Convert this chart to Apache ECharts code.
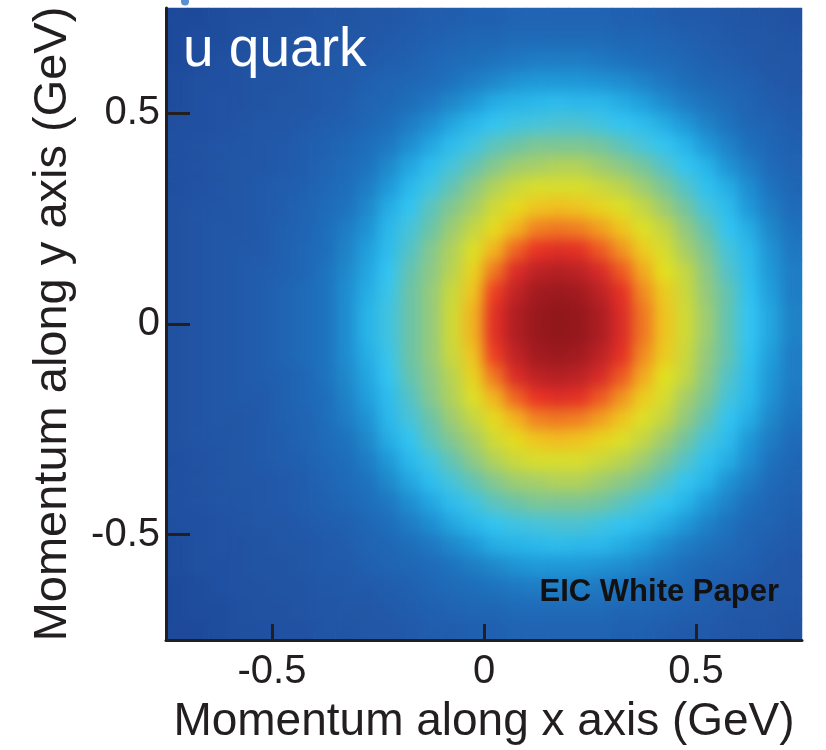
<!DOCTYPE html>
<html>
<head>
<meta charset="utf-8">
<title>u quark</title>
<script src="https://cdn.jsdelivr.net/npm/echarts@6.0.0/dist/echarts.min.js"></script>
<style>
html,body{margin:0;padding:0;background:#ffffff;}
#chart{width:826px;height:750px;}
/* soft shading of the density layer, kept inside the plotting frame */
#chart canvas[data-zr-dom-id="zr_1"]{filter:blur(7px);clip-path:inset(8px 24px 108px 166px);}
</style>
</head>
<body>
<div id="chart"></div>
<script>
// Cell centres (GeV) of the momentum grid at 0.05 GeV spacing
const xCenters = [-0.725,-0.675,-0.625,-0.575,-0.525,-0.475,-0.425,-0.375,-0.325,-0.275,-0.225,-0.175,-0.125,-0.075,-0.025,0.025,0.075,0.125,0.175,0.225,0.275,0.325,0.375,0.425,0.475,0.525,0.575,0.625,0.675,0.725];
const yCenters = [-0.725,-0.675,-0.625,-0.575,-0.525,-0.475,-0.425,-0.375,-0.325,-0.275,-0.225,-0.175,-0.125,-0.075,-0.025,0.025,0.075,0.125,0.175,0.225,0.275,0.325,0.375,0.425,0.475,0.525,0.575,0.625,0.675,0.725];
const xTickValues = [-0.5, 0, 0.5];
const yTickValues = [-0.5, 0, 0.5];

// Relative density (0..100) estimated from the colours; rows from top (y=+0.725) to bottom (y=-0.725)
const density = [
[2,2,3,4,4,5,5,6,6,7,7,8,9,9,10,10,11,11,11,11,11,10,10,9,8,8,7,6,6,5],
[2,3,3,4,5,5,6,6,7,7,8,9,10,11,12,12,13,13,13,13,13,12,12,11,10,9,8,7,7,6],
[2,3,4,5,5,6,6,7,8,8,9,10,12,13,14,15,16,17,17,17,16,15,14,13,12,10,9,8,7,7],
[3,4,4,5,6,6,7,8,8,10,11,12,13,15,17,19,21,22,22,22,21,20,18,16,14,12,11,10,8,7],
[3,4,5,5,6,7,7,8,9,11,12,14,16,19,22,25,26,27,28,27,27,25,23,20,17,15,13,11,9,8],
[4,4,5,6,7,7,8,9,10,12,14,17,20,24,27,30,32,33,34,34,32,30,28,25,22,18,15,12,11,9],
[4,5,6,6,7,8,9,10,12,14,16,20,24,28,32,36,38,40,40,40,39,36,33,30,26,22,18,14,12,10],
[4,5,6,7,7,8,9,11,13,15,19,24,28,33,37,41,44,45,46,46,44,42,39,35,30,26,21,17,13,11],
[4,5,6,7,8,9,10,12,14,17,22,27,32,37,42,46,49,51,51,51,49,47,44,40,35,29,25,20,15,12],
[5,6,6,7,8,9,11,13,15,19,25,30,36,41,45,50,54,57,58,57,55,52,48,44,39,33,28,22,17,13],
[5,6,7,7,8,10,11,14,17,21,27,33,38,44,48,54,59,64,65,64,61,57,52,48,43,37,30,25,19,15],
[5,6,7,8,8,10,12,14,18,23,28,35,41,46,52,59,67,73,76,74,68,62,56,51,45,40,33,27,21,16],
[5,6,7,8,9,10,12,15,19,24,30,37,42,47,55,65,77,85,87,85,78,68,60,53,48,42,35,28,22,17],
[5,6,7,8,9,11,13,15,20,25,31,38,43,49,57,71,84,92,94,92,85,74,63,56,49,43,37,29,23,17],
[5,6,7,8,9,11,13,15,20,26,32,38,43,50,59,75,88,95,98,96,89,77,65,57,50,44,37,30,24,18],
[5,6,7,8,9,11,13,15,20,26,32,38,43,50,59,75,88,95,98,96,89,77,65,57,50,44,37,30,24,18],
[5,6,7,8,9,11,13,15,20,25,31,38,43,49,57,71,84,92,94,92,85,74,63,56,49,43,37,29,23,17],
[5,6,7,8,9,10,12,15,19,24,30,37,42,47,55,65,77,85,87,85,78,68,60,53,48,42,35,28,22,17],
[5,6,7,8,8,10,12,14,18,23,28,35,41,46,52,59,67,73,76,74,68,62,56,51,45,40,33,27,21,16],
[5,6,7,7,8,10,11,14,17,21,27,33,38,44,48,54,59,64,65,64,61,57,52,48,43,37,30,25,19,15],
[5,6,6,7,8,9,11,13,15,19,25,30,36,41,45,50,54,57,58,57,55,52,48,44,39,33,28,22,17,13],
[4,5,6,7,8,9,10,12,14,17,22,27,32,37,42,46,49,51,51,51,49,47,44,40,35,29,25,20,15,12],
[4,5,6,7,7,8,9,11,13,15,19,24,28,33,37,41,44,45,46,46,44,42,39,35,30,26,21,17,13,11],
[4,5,6,6,7,8,9,10,12,14,16,20,24,28,32,36,38,40,40,40,39,36,33,30,26,22,18,14,12,10],
[4,4,5,6,7,7,8,9,10,12,14,17,20,24,27,30,32,33,34,34,32,30,28,25,22,18,15,12,11,9],
[3,4,5,5,6,7,7,8,9,11,12,14,16,19,22,25,26,27,28,27,27,25,23,20,17,15,13,11,9,8],
[3,4,4,5,6,6,7,8,8,10,11,12,13,15,17,19,21,22,22,22,21,20,18,16,14,12,11,10,8,7],
[2,3,4,5,5,6,6,7,8,8,9,10,12,13,14,15,16,17,17,17,16,15,14,13,12,10,9,8,7,7],
[2,3,3,4,5,5,6,6,7,7,8,9,10,11,12,12,13,13,13,13,13,12,12,11,10,9,8,7,7,6],
[2,2,3,4,4,5,5,6,6,7,7,8,9,9,10,10,11,11,11,11,11,10,10,9,8,8,7,6,6,5]
];

// ---- styling ----
const FONT = '"Liberation Sans", Arial, Helvetica, sans-serif';
const INK = '#231f20';
const colorStops = [
  [0,'#1b4395'],[4,'#2050a0'],[7,'#2257a6'],[10,'#2060b0'],[14,'#1e6eba'],
  [18,'#1f82c7'],[22,'#1f98d8'],[26,'#28b4e8'],[30,'#33c4f2'],[34,'#4dc2d2'],
  [38,'#6cc3a6'],[43,'#94c97e'],[48,'#c4d644'],[53,'#e3e11e'],[58,'#f2bd20'],
  [63,'#f08a22'],[68,'#ee5a23'],[72,'#ec3324'],[80,'#d0282a'],[90,'#a81d21'],[100,'#8a1519']
];
function hexToRgb(h){return [parseInt(h.slice(1,3),16),parseInt(h.slice(3,5),16),parseInt(h.slice(5,7),16)];}
function paletteAt(v){
  for(let i=0;i<colorStops.length-1;i++){
    const a=colorStops[i], b=colorStops[i+1];
    if(v>=a[0] && v<=b[0]){
      const t=(v-a[0])/(b[0]-a[0]); const ca=hexToRgb(a[1]), cb=hexToRgb(b[1]);
      return 'rgb('+ca.map((c,j)=>Math.round(c+(cb[j]-c)*t)).join(',')+')';
    }
  }
  return colorStops[colorStops.length-1][1];
}
const palette=[]; for(let v=0;v<=100;v++) palette.push(paletteAt(v));

const cells=[];
density.forEach((row,r)=>{ row.forEach((val,k)=>{ cells.push([k, yCenters.length-1-r, val]); }); });

function heatSeries(zlevel){
  return {type:'heatmap', xAxisIndex:0, yAxisIndex:0, data:cells, zlevel:zlevel,
    progressive:0, emphasis:{disabled:true}, itemStyle:{borderWidth:0}};
}

const chart = echarts.init(document.getElementById('chart'), null, {renderer:'canvas'});
chart.setOption({
  animation:false,
  backgroundColor:'#ffffff',
  grid:{left:166, top:8, width:636, height:634, containLabel:false},
  xAxis:[
    {type:'category', data:xCenters.map(String), show:false, position:'bottom', gridIndex:0},
    {type:'value', min:-0.75, max:0.75, position:'bottom', gridIndex:0, zlevel:2, z:10,
     name:'Momentum along x axis (GeV)', nameLocation:'middle', nameGap:59,
     nameTextStyle:{fontFamily:FONT, fontSize:46, color:INK},
     axisLine:{show:true, onZero:false, lineStyle:{color:INK, width:3}},
     axisTick:{show:true, inside:true, length:16, customValues:xTickValues, lineStyle:{color:INK, width:3}},
     axisLabel:{show:true, margin:12, fontFamily:FONT, fontSize:40, color:INK, customValues:xTickValues,
       formatter:function(v){return String(v);}},
     splitLine:{show:false}}
  ],
  yAxis:[
    {type:'category', data:yCenters.map(String), show:false, position:'left', gridIndex:0},
    {type:'value', min:-0.75, max:0.75, position:'left', gridIndex:0, zlevel:2, z:10,
     name:'Momentum along y axis (GeV)', nameLocation:'middle', nameGap:89,
     nameTextStyle:{fontFamily:FONT, fontSize:47, color:INK},
     axisLine:{show:true, onZero:false, lineStyle:{color:INK, width:3}},
     axisTick:{show:true, inside:true, length:24, customValues:yTickValues, lineStyle:{color:INK, width:3}},
     axisLabel:{show:true, margin:6, fontFamily:FONT, fontSize:40, color:INK, customValues:yTickValues,
       formatter:function(v){return String(v);}},
     splitLine:{show:false}}
  ],
  visualMap:{type:'continuous', show:false, min:0, max:100, dimension:2, seriesIndex:[0,1],
    inRange:{color:palette}},
  series:[heatSeries(0), heatSeries(1)],
  graphic:[
    {type:'text', left:183, top:23, zlevel:2, z:100, silent:true,
     style:{text:'u quark', fill:'#ffffff', font:'55px "Liberation Sans", Arial, sans-serif'}},
    {type:'text', right:47, top:577, zlevel:2, z:100, silent:true,
     style:{text:'EIC White Paper', fill:'#111111', font:'bold 31px "Liberation Sans", Arial, sans-serif'}},
    {type:'circle', shape:{cx:185, cy:1.5, r:4}, zlevel:2, z:100, silent:true, style:{fill:'#5b8fd2'}}
  ]
});
</script>
</body>
</html>
